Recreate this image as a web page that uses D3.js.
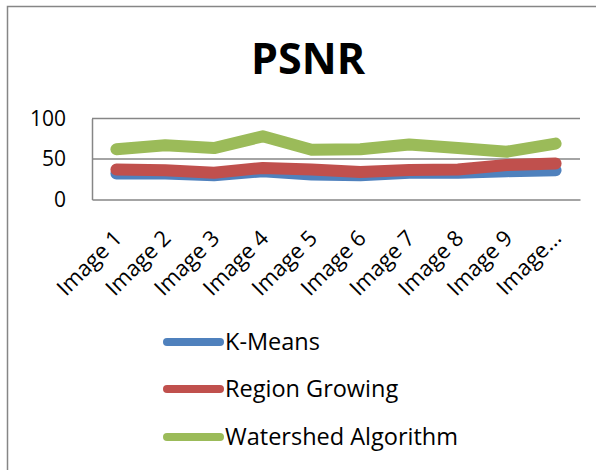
<!DOCTYPE html>
<html><head><meta charset="utf-8">
<script src="https://cdn.jsdelivr.net/npm/d3@7"></script>
<style>body{margin:0;background:#fff}svg{display:block}text{font-family:"Open Sans",Lato,sans-serif}</style>
</head><body>
<script>
const categories = ["Image 1","Image 2","Image 3","Image 4","Image 5","Image 6","Image 7","Image 8","Image 9","Image..."];
const kMeans = [32, 32, 30, 35, 31, 30, 33, 33, 35, 36];
const regionGrowing = [37, 36, 33, 39, 37, 34, 36.5, 37, 42.5, 44.5];
const watershed = [62, 67, 63.5, 78, 61.5, 62, 68, 63.5, 59, 69];
const seriesNames = ["K-Means","Region Growing","Watershed Algorithm"];
const seriesColors = ["#4F81BD","#C0504D","#9BBB59"];
const yTicks = [0, 50, 100];

(function(){
const W = 596, H = 470;
const svg = d3.select("body").append("svg").attr("width", W).attr("height", H);

// outer frame
svg.append("path").attr("d", `M7.5,${H} V6.5 H${W}`).attr("fill","none").attr("stroke","#868686").attr("stroke-width",1.5);

svg.append("text").attr("x", 308).attr("y", 74).attr("text-anchor","middle")
  .attr("font-family","Lato").attr("font-size", 43).attr("font-weight","bold").attr("fill","#000").text("PSNR");

const pLeft = 92, pRight = 580, pTop = 118.5, pBottom = 199.5;
const x = d3.scaleBand().domain(categories).range([pLeft, pRight]);
const y = d3.scaleLinear().domain([0, 100]).range([pBottom, pTop]);

// gridlines
svg.append("g").selectAll("line").data(yTicks.filter(d => d > 0)).join("line")
  .attr("x1", pLeft).attr("x2", pRight).attr("y1", d => y(d)).attr("y2", d => y(d))
  .attr("stroke", "#868686").attr("stroke-width", 1.5);

// y axis
const yAxis = d3.axisLeft(y).tickValues(yTicks).tickSize(0).tickPadding(26);
const gy = svg.append("g").attr("transform", `translate(${pLeft},0)`).call(yAxis);
gy.select(".domain").attr("stroke","#868686").attr("stroke-width",1.5);
gy.selectAll("text").attr("font-size", 21).attr("fill","#000").attr("font-family","Open Sans");

// x axis
const xAxis = d3.axisBottom(x).tickSize(0).tickPadding(0);
const gx = svg.append("g").attr("transform", `translate(0,${pBottom})`).call(xAxis);
gx.select(".domain").attr("stroke","#868686").attr("stroke-width",1.5);
gx.selectAll("text").attr("font-size", 22).attr("fill","#000").attr("font-family","Open Sans")
  .attr("text-anchor","end").attr("dy", null)
  .attr("transform", "translate(7,40) rotate(-45)");

const data = [kMeans, regionGrowing, watershed];
const line = d3.line().x((d, i) => x(categories[i]) + x.bandwidth() / 2).y(d => y(d));
svg.append("g").selectAll("path").data(data).join("path")
  .attr("d", d => line(d)).attr("fill","none")
  .attr("stroke", (d, i) => seriesColors[i]).attr("stroke-width", 12)
  .attr("stroke-linecap","round").attr("stroke-linejoin","round");

// legend
const legendY = [342, 389, 437];
const lg = svg.append("g").selectAll("g").data(seriesNames).join("g")
  .attr("transform", (d, i) => `translate(0,${legendY[i]})`);
lg.append("line").attr("x1", 167).attr("x2", 220).attr("y1", 0).attr("y2", 0)
  .attr("stroke", (d, i) => seriesColors[i]).attr("stroke-width", 8).attr("stroke-linecap","round");
lg.append("text").attr("x", 225).attr("y", 0).attr("dy","0.36em").attr("font-size", 23.5).attr("fill","#000").text(d => d);
})();
</script>
</body></html>
